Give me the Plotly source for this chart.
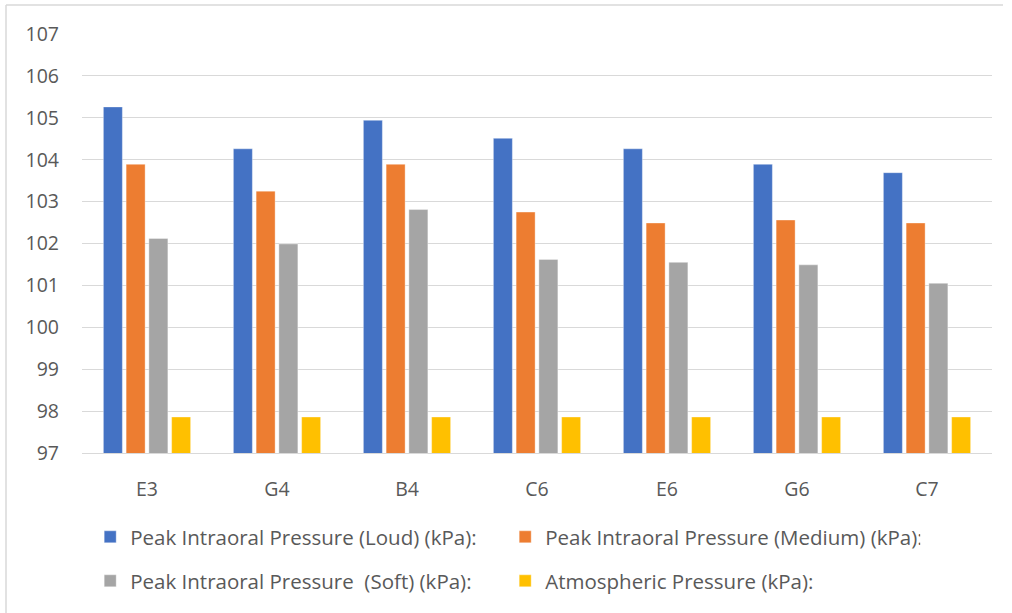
import plotly.graph_objects as go

# Musical notes tested
notes = ["E3", "G4", "B4", "C6", "E6", "G6", "C7"]

# Pressure readings in kPa
loud = [105.26, 104.26, 104.94, 104.51, 104.26, 103.89, 103.69]
medium = [103.89, 103.25, 103.89, 102.75, 102.49, 102.56, 102.49]
soft = [102.12, 101.99, 102.81, 101.62, 101.55, 101.49, 101.05]
atmospheric = [97.86, 97.86, 97.86, 97.86, 97.86, 97.86, 97.86]

series = [
    ("Peak Intraoral Pressure (Loud) (kPa):", loud, "#4472C4", "legend"),
    ("Peak Intraoral Pressure (Medium) (kPa):", medium, "#ED7D31", "legend"),
    ("Peak Intraoral Pressure  (Soft) (kPa):", soft, "#A5A5A5", "legend2"),
    ("Atmospheric Pressure (kPa):", atmospheric, "#FFC000", "legend2"),
]

FONT = "Open Sans, sans-serif"
TEXT = "#595959"
FRAME = "#D9D9D9"

fig = go.Figure()
for name, vals, color, leg in series:
    fig.add_trace(go.Bar(
        x=notes, y=vals, name=name, legend=leg,
        marker=dict(color=color, line=dict(color="rgba(255,255,255,0.6)", width=0.6)),
    ))

legend_common = dict(
    orientation="h", xref="paper", yref="container",
    x=0.009, xanchor="left", yanchor="middle",
    entrywidth=370, entrywidthmode="pixels",
    font=dict(family=FONT, size=20.5, color=TEXT),
    bgcolor="rgba(0,0,0,0)", itemclick=False,
)


def px_x(p):
    return (p - 82) / 910


def px_y(p):
    return (453 - p) / 419


fig.update_layout(
    width=1012, height=613,
    margin=dict(l=82, r=20, t=34, b=160),
    paper_bgcolor="white", plot_bgcolor="white",
    barmode="group", bargap=0.3, bargroupgap=0.165,
    font=dict(family=FONT, color=TEXT),
    legend=dict(y=1 - 537 / 613, **legend_common),
    legend2=dict(y=1 - 581 / 613, **legend_common),
    shapes=[
        # chart frame: top and left edges
        dict(type="line", xref="paper", yref="paper",
             x0=px_x(6), y0=px_y(5), x1=px_x(1003), y1=px_y(5),
             line=dict(color=FRAME, width=1.5), layer="below"),
        dict(type="line", xref="paper", yref="paper",
             x0=px_x(6), y0=px_y(5), x1=px_x(6), y1=px_y(640),
             line=dict(color=FRAME, width=1.5), layer="below"),
    ],
)

fig.update_yaxes(
    range=[97, 107], dtick=1, showgrid=True, gridcolor=FRAME, gridwidth=1.3,
    zeroline=False, showline=False, ticks="", ticklabelstandoff=22,
    tickfont=dict(family=FONT, size=19.5, color=TEXT),
)
fig.update_xaxes(
    showline=True, linecolor=FRAME, linewidth=1.3, ticks="",
    ticklabelstandoff=18, tickfont=dict(family=FONT, size=19.5, color=TEXT),
)

fig.write_html("out.html")
